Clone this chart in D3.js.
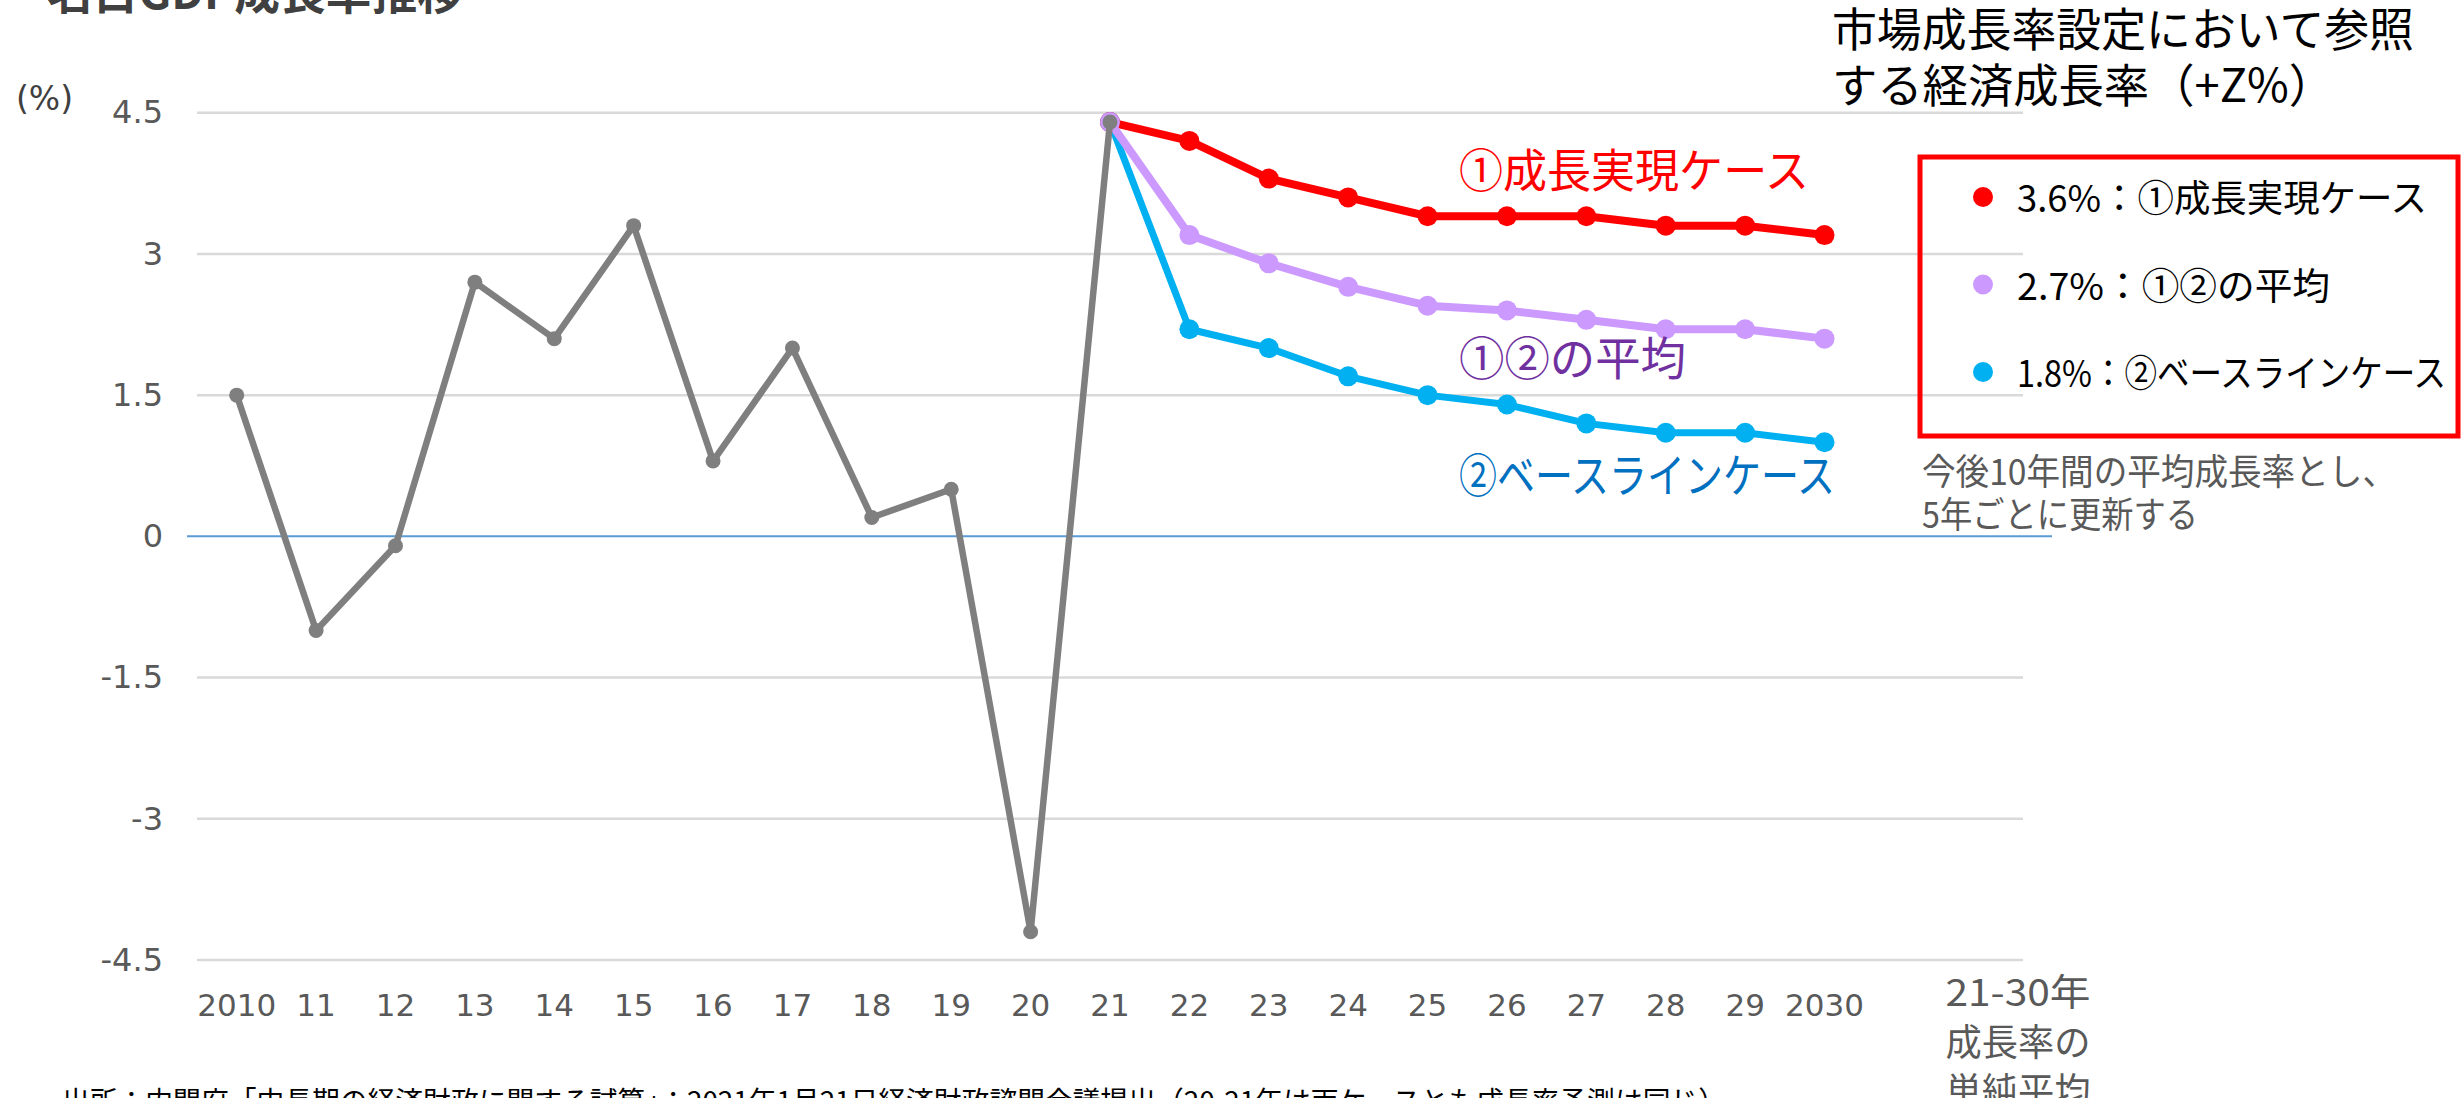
<!DOCTYPE html>
<html>
<head>
<meta charset="utf-8">
<script src="https://d3js.org/d3.v7.min.js"></script>
<style>
  body { margin: 0; background: #fff; }
  text { font-family: "Noto Sans CJK JP", "DejaVu Sans", sans-serif; }
</style>
</head>
<body>
<div id="chart"></div>
<script>
// categorias del eje x (23 huecos: 21 años + hueco + columna de promedio)
var years = ["2010", "11", "12", "13", "14", "15", "16", "17", "18", "19", "20",
             "21", "22", "23", "24", "25", "26", "27", "28", "29", "2030"];
var extraCats = ["gap", "avg"];

// crecimiento nominal historico 2010-21
var histYears = ["2010", "11", "12", "13", "14", "15", "16", "17", "18", "19", "20", "21"];
var histValues = [1.5, -1.0, -0.1, 2.7, 2.1, 3.3, 0.8, 2.0, 0.2, 0.5, -4.2, 4.4];

// proyecciones 21-2030
var projYears = ["21", "22", "23", "24", "25", "26", "27", "28", "29", "2030"];
var growthCase = [4.4, 4.2, 3.8, 3.6, 3.4, 3.4, 3.4, 3.3, 3.3, 3.2];
var avgCase = [4.4, 3.2, 2.9, 2.65, 2.45, 2.4, 2.3, 2.2, 2.2, 2.1];
var baseCase = [4.4, 2.2, 2.0, 1.7, 1.5, 1.4, 1.2, 1.1, 1.1, 1.0];

var yTicks = [-4.5, -3, -1.5, 0, 1.5, 3, 4.5];

var legendItems = ["3.6%：①成長実現ケース", "2.7%：①②の平均", "1.8%：②ベースラインケース"];
var avgLabel = ["21-30年", "成長率の", "単純平均"];

var width = 2461;
var height = 1098;

var svg = d3.select('#chart')
    .append('svg')
    .attr('width', width)
    .attr('height', height);

var scaleX = d3.scaleBand()
    .domain(years.concat(extraCats))
    .range([197, 2023]);

var scaleY = d3.scaleLinear()
    .domain([-4.5, 4.5])
    .range([960, 112.7]);

var cx = (d) => scaleX(d) + scaleX.bandwidth() / 2;

// texto con ancho fijo (para parecerse al original)
function fitText(sel, len) {
    return sel.attr('textLength', len).attr('lengthAdjust', 'spacingAndGlyphs');
}

// titulo (cortado arriba)
fitText(svg.append('text')
    .attr('x', 47)
    .attr('y', 9)
    .attr('font-size', 46)
    .attr('font-weight', 'bold')
    .attr('fill', '#404040')
    .text('名目GDP成長率推移'), 416);

// rejilla
svg.append('g')
    .selectAll('line')
    .data(yTicks.filter((d) => d != 0))
    .enter()
    .append('line')
    .attr('x1', 197)
    .attr('x2', 2023)
    .attr('y1', (d) => scaleY(d))
    .attr('y2', (d) => scaleY(d))
    .attr('stroke', '#d9d9d9')
    .attr('stroke-width', 2.5);

svg.append('line')
    .attr('x1', 187)
    .attr('x2', 2052)
    .attr('y1', scaleY(0))
    .attr('y2', scaleY(0))
    .attr('stroke', '#5b9bd5')
    .attr('stroke-width', 2);

// eje y
var y_axis = d3.axisLeft(scaleY).tickValues(yTicks).tickSize(0).tickPadding(0)
    .tickFormat((d) => String(d));
var gy = svg.append('g')
    .attr('transform', 'translate(163,0)')
    .call(y_axis);
gy.select('.domain').remove();
gy.selectAll('text')
    .attr('font-size', 32)
    .attr('fill', '#595959')
    .style('font-family', '"DejaVu Sans", sans-serif');

svg.append('text')
    .attr('x', 16)
    .attr('y', 110)
    .attr('font-size', 33)
    .attr('fill', '#404040')
    .style('font-family', '"DejaVu Sans", sans-serif')
    .text('(%)');

// eje x
var x_axis = d3.axisBottom(scaleX).tickValues(years).tickSize(0).tickPadding(0);
var gx = svg.append('g')
    .attr('transform', 'translate(0,994)')
    .call(x_axis);
gx.select('.domain').remove();
gx.selectAll('text')
    .attr('font-size', 31)
    .attr('fill', '#595959')
    .attr('dy', '0.71em')
    .style('font-family', '"DejaVu Sans", sans-serif');

// series
function drawSeries(xs, vals, color, lw, r) {
    var pts = xs.map((d, i) => [cx(d), scaleY(vals[i])]);
    var g = svg.append('g');
    g.append('path')
        .attr('d', d3.line()(pts))
        .attr('fill', 'none')
        .attr('stroke', color)
        .attr('stroke-width', lw)
        .attr('stroke-linejoin', 'round');
    g.selectAll('circle')
        .data(pts)
        .enter()
        .append('circle')
        .attr('cx', (d) => d[0])
        .attr('cy', (d) => d[1])
        .attr('r', r)
        .attr('fill', color);
}

drawSeries(projYears, baseCase, '#00b0f0', 7, 10);
drawSeries(projYears, growthCase, '#ff0000', 8, 10);
drawSeries(projYears, avgCase, '#cc99ff', 8, 10);
drawSeries(histYears, histValues, '#7f7f7f', 6.5, 7.5);

// etiquetas de las series
var seriesLabels = [
    {text: '①成長実現ケース', y: 187, color: '#ff0000', len: 350},
    {text: '①②の平均', y: 375, color: '#7030a0', len: 227},
    {text: '②ベースラインケース', y: 492, color: '#0070c0', len: 376}
];
svg.append('g')
    .selectAll('text')
    .data(seriesLabels)
    .enter()
    .append('text')
    .attr('x', 1459)
    .attr('y', (d) => d.y)
    .attr('font-size', 46)
    .attr('fill', (d) => d.color)
    .attr('textLength', (d) => d.len)
    .attr('lengthAdjust', 'spacingAndGlyphs')
    .text((d) => d.text);

// texto arriba a la derecha
var topLines = ['市場成長率設定において参照', 'する経済成長率（+Z%）'];
var topLens = [582, 502];
svg.append('g')
    .selectAll('text')
    .data(topLines)
    .enter()
    .append('text')
    .attr('x', 1832)
    .attr('y', (d, i) => 46 + i * 56)
    .attr('font-size', 46)
    .attr('fill', '#000')
    .attr('textLength', (d, i) => topLens[i])
    .attr('lengthAdjust', 'spacingAndGlyphs')
    .text((d) => d);

// caja de leyenda
svg.append('rect')
    .attr('x', 1920)
    .attr('y', 157)
    .attr('width', 2458 - 1920)
    .attr('height', 436 - 157)
    .attr('fill', 'none')
    .attr('stroke', '#ff0000')
    .attr('stroke-width', 5);

var legendColors = ['#ff0000', '#cc99ff', '#00b0f0'];
var legendLens = [410, 313, 429];
var legend = svg.append('g')
    .selectAll('g')
    .data(legendItems)
    .enter()
    .append('g')
    .attr('transform', (d, i) => 'translate(0,' + (212 + i * 87.5) + ')');
legend.append('circle')
    .attr('cx', 1983)
    .attr('cy', -15)
    .attr('r', 10)
    .attr('fill', (d, i) => legendColors[i]);
legend.append('text')
    .attr('x', 2017)
    .attr('font-size', 37)
    .attr('fill', '#000')
    .attr('textLength', (d, i) => legendLens[i])
    .attr('lengthAdjust', 'spacingAndGlyphs')
    .text((d) => d);

var noteLines = ['今後10年間の平均成長率とし、', '5年ごとに更新する'];
var noteLens = [474, 276];
svg.append('g')
    .selectAll('text')
    .data(noteLines)
    .enter()
    .append('text')
    .attr('x', 1922)
    .attr('y', (d, i) => 485 + i * 43)
    .attr('font-size', 36)
    .attr('fill', '#595959')
    .attr('textLength', (d, i) => noteLens[i])
    .attr('lengthAdjust', 'spacingAndGlyphs')
    .text((d) => d);

// etiqueta del promedio
svg.append('g')
    .selectAll('text')
    .data(avgLabel)
    .enter()
    .append('text')
    .attr('x', 2018)
    .attr('y', (d, i) => 1006 + i * 49.5)
    .attr('text-anchor', 'middle')
    .attr('font-size', 37)
    .attr('fill', '#595959')
    .attr('textLength', 145)
    .attr('lengthAdjust', 'spacingAndGlyphs')
    .text((d) => d);

// fuente (cortada abajo)
fitText(svg.append('text')
    .attr('x', 62)
    .attr('y', 1112)
    .attr('font-size', 28)
    .attr('fill', '#000')
    .text('出所：内閣府「中長期の経済財政に関する試算」：2021年1月21日経済財政諮問会議提出（20-21年は両ケースとも成長率予測は同じ）'), 1664);
</script>
</body>
</html>
